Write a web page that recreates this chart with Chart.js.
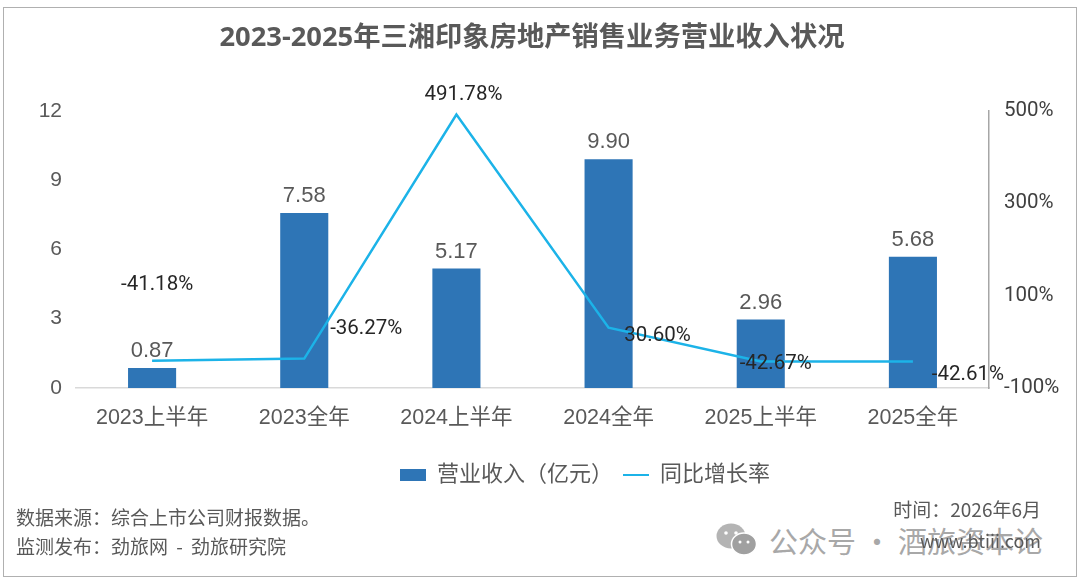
<!DOCTYPE html>
<html>
<head>
<meta charset="utf-8">
<script src="https://cdn.jsdelivr.net/npm/chart.js@4/dist/chart.umd.min.js"></script>
<style>
    html, body { margin: 0; padding: 0; background: #fff; }
    #wrap { position: relative; width: 1080px; height: 583px; overflow: hidden; }
    #frame { position: absolute; left: 3px; top: 7px; width: 1072px; height: 568px; border: 1.5px solid #b0b0b0; }
    canvas { position: absolute; left: 0; top: 0; }
    .note { position: absolute; font-family: "Noto Sans CJK SC", sans-serif; color: #595959; white-space: nowrap; line-height: 24px; }
    #mark { position: absolute; left: 716px; top: 520px; height: 40px; display: flex; align-items: center; font-family: "Noto Sans CJK SC", sans-serif; font-size: 29px; color: #a8a8a8; white-space: nowrap; }
</style>
</head>
<body>
<div id="wrap">
    <div id="frame"></div>
    <div id="mark">
        <svg width="42" height="34" viewBox="0 0 42 34" style="margin-right:11px">
            <ellipse cx="15" cy="13" rx="14.5" ry="12.5" fill="#b4b4b4"/>
            <circle cx="10" cy="10" r="1.8" fill="#fff"/>
            <circle cx="20" cy="10" r="1.8" fill="#fff"/>
            <ellipse cx="28" cy="21" rx="12.5" ry="11" fill="#a0a0a0" stroke="#fff" stroke-width="1.5"/>
            <circle cx="24" cy="19" r="1.5" fill="#fff"/>
            <circle cx="32" cy="19" r="1.5" fill="#fff"/>
        </svg>
        <span>公众号 · 酒旅资本论</span>
    </div>
    <canvas id="chart" width="1080" height="583"></canvas>
    <div class="note" style="left:16px;top:505px;font-size:19px">数据来源：综合上市公司财报数据。</div>
    <div class="note" style="left:16px;top:534px;font-size:19px;word-spacing:4px">监测发布：劲旅网 - 劲旅研究院</div>
    <div class="note" style="right:39px;top:497px;font-size:19px">时间：2026年6月</div>
    <div class="note" style="right:39px;top:528px;font-size:18px">www.btiii.com</div>
</div>
<script>
const categories = ['2023上半年', '2023全年', '2024上半年', '2024全年', '2025上半年', '2025全年'];
const revenue = [0.87, 7.58, 5.17, 9.90, 2.96, 5.68];
const growthRate = [-41.18, -36.27, 491.78, 30.60, -42.67, -42.61];
const revenueTicks = [0, 3, 6, 9, 12];
const growthTicks = [-100, 100, 300, 500];

const sansFont = '"Liberation Sans", "Noto Sans CJK SC", sans-serif';
const narrowFont = 'Roboto, "Liberation Sans", sans-serif';
const barColor = '#2E75B6';
const lineColor = '#1CB3E8';

// the rate labels sit by hand around their points, like in the original
const rateLabelShift = [[5, -76], [62, -30], [7, -20], [49, 8], [15, 2], [55, 13]];

function legendIcon(width, height, color) {
    let icon = document.createElement('canvas');
    icon.width = width;
    icon.height = height;
    let iconContext = icon.getContext('2d');
    iconContext.fillStyle = color;
    iconContext.fillRect(0, 0, width, height);
    return icon;
}

const valueLabels = {
    id: 'valueLabels',
    afterLayout(chart) {
        // legend is off centre in the original
        chart.legend.left += 53;
        chart.legend.right += 53;
    },
    afterDatasetsDraw(chart) {
        let ctx = chart.ctx;
        ctx.save();
        ctx.textAlign = 'center';
        ctx.textBaseline = 'alphabetic';

        ctx.font = '22px ' + sansFont;
        ctx.fillStyle = '#595959';
        chart.getDatasetMeta(0).data.forEach(function (bar, index) {
            ctx.fillText(revenue[index].toFixed(2), bar.x, bar.y - 11);
        });

        ctx.font = '20.5px ' + narrowFont;
        ctx.fillStyle = '#262626';
        ctx.textBaseline = 'middle';
        chart.getDatasetMeta(1).data.forEach(function (point, index) {
            let shift = rateLabelShift[index];
            ctx.fillText(growthRate[index].toFixed(2) + '%', point.x + shift[0], point.y + shift[1]);
        });
        ctx.restore();
    }
};

new Chart(document.getElementById('chart').getContext('2d'), {
    type: 'bar',
    data: {
        labels: categories,
        datasets: [
            {
                label: '营业收入（亿元）',
                data: revenue,
                yAxisID: 'y',
                backgroundColor: barColor,
                categoryPercentage: 1,
                barPercentage: 0.316,
                order: 2
            },
            {
                type: 'line',
                label: '同比增长率',
                data: growthRate,
                yAxisID: 'y1',
                borderColor: lineColor,
                borderWidth: 2.5,
                pointRadius: 0,
                tension: 0,
                order: 1
            }
        ]
    },
    plugins: [valueLabels],
    options: {
        responsive: false,
        animation: false,
        layout: { padding: { left: 0, right: 16, top: 0, bottom: 87 } },
        plugins: {
            tooltip: { enabled: false },
            title: {
                display: true,
                text: '2023-2025年三湘印象房地产销售业务营业收入状况',
                color: '#595959',
                font: { family: '"Open Sans", "Noto Sans CJK SC", sans-serif', size: 27.3, weight: 'bold' },
                padding: { top: 22, bottom: 56 }
            },
            legend: {
                position: 'bottom',
                labels: {
                    usePointStyle: true,
                    pointStyleWidth: 26,
                    boxHeight: 11,
                    padding: 10,
                    color: '#595959',
                    font: { family: sansFont, size: 22 },
                    generateLabels(chart) {
                        return chart.data.datasets.map(function (dataset, index) {
                            return {
                                text: dataset.label,
                                datasetIndex: index,
                                fontColor: '#595959',
                                pointStyle: index === 0 ? legendIcon(26, 12, barColor) : legendIcon(26, 2, lineColor)
                            };
                        });
                    }
                }
            }
        },
        scales: {
            x: {
                grid: { display: false, drawTicks: false },
                border: { color: '#d9d9d9', width: 1.5 },
                ticks: { color: '#595959', font: { family: sansFont, size: 21.5 }, padding: 17, maxRotation: 0 },
                afterFit(scale) { scale.height = 66; }
            },
            y: {
                position: 'left',
                min: 0,
                max: 12,
                afterBuildTicks(scale) { scale.ticks = revenueTicks.map(v => ({ value: v })); },
                grid: { display: false, drawTicks: false },
                border: { display: false },
                ticks: { color: '#595959', font: { family: sansFont, size: 21 }, padding: 14 },
                afterFit(scale) { scale.width = 76; }
            },
            y1: {
                position: 'right',
                min: -100,
                max: 500,
                afterBuildTicks(scale) { scale.ticks = growthTicks.map(v => ({ value: v })); },
                grid: { display: false, drawTicks: false },
                border: { color: '#a6a6a6', width: 1.5 },
                ticks: {
                    color: '#404040',
                    font: { family: narrowFont, size: 20.5 },
                    padding: 15,
                    callback: v => v + '%'
                },
                afterFit(scale) { scale.width = 75; }
            }
        }
    }
});
</script>
</body>
</html>
